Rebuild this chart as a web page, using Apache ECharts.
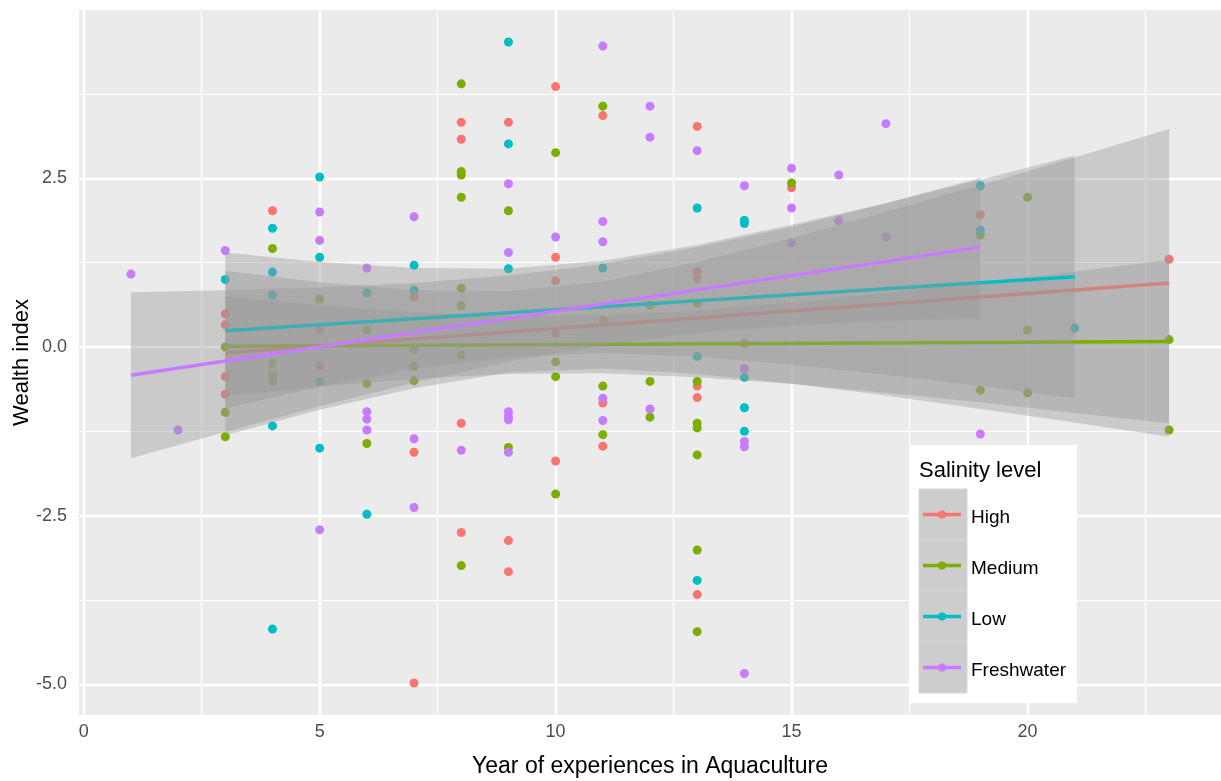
<!DOCTYPE html>
<html>
<head>
<meta charset="utf-8">
<title>Wealth index by years of experience</title>
<script src="https://cdn.jsdelivr.net/npm/echarts@6/dist/echarts.min.js"></script>
<style>
html, body { margin: 0; padding: 0; background: #fff; }
#chart { width: 1221px; height: 781px; }
</style>
</head>
<body>
<div id="chart"></div>
<script>
// points: [years of experience, wealth index]
var high = [[3,0.49],[3,0.33],[3,-0.44],[3,-0.70],[4,2.02],[5,0.25],[5,-0.28],
  [7,0.74],[7,-1.56],[7,-4.98],[8,3.33],[8,3.08],[8,-1.13],[8,-2.75],
  [9,3.33],[9,-2.87],[9,-3.33],[10,3.86],[10,1.33],[10,0.98],[10,0.20],[10,-1.69],
  [11,3.43],[11,0.40],[11,-0.83],[11,-1.47],[13,3.27],[13,1.12],[13,1.01],[13,-0.58],
  [13,-0.75],[13,-3.67],[14,0.05],[15,2.36],[19,1.96],[23,1.30]];
var medium = [[3,0.00],[3,-0.97],[3,-1.33],[4,1.46],[4,-0.24],[4,-0.41],[4,-0.51],
  [5,0.71],[6,0.25],[6,-0.54],[6,-1.43],[7,-0.04],[7,-0.29],[7,-0.50],
  [8,3.90],[8,2.60],[8,2.55],[8,2.22],[8,0.87],[8,0.61],[8,-0.12],[8,-3.24],
  [9,2.02],[9,-1.49],[10,2.88],[10,-0.22],[10,-0.44],[10,-2.18],[11,3.57],[11,-0.58],[11,-1.30],
  [12,0.62],[12,-0.51],[12,-1.04],[13,0.65],[13,-0.51],[13,-1.13],[13,-1.20],[13,-1.60],
  [13,-3.01],[13,-4.22],[15,2.43],[19,1.66],[19,-0.64],[20,2.22],[20,0.25],[20,-0.68],
  [23,0.11],[23,-1.23]];
var low = [[3,1.00],[4,1.76],[4,1.11],[4,0.77],[4,-1.17],[4,-4.18],[5,2.52],[5,1.33],
  [5,-0.51],[5,-1.50],[6,0.80],[6,-2.48],[7,1.21],[7,0.84],[9,4.52],[9,3.01],[9,1.16],
  [11,1.17],[13,2.06],[13,-0.14],[13,-3.46],[14,1.88],[14,1.83],[14,-0.45],[14,-0.90],
  [14,-1.25],[19,2.39],[19,1.73],[21,0.28]];
var fresh = [[1,1.08],[2,-1.23],[3,1.43],[5,2.00],[5,1.58],[5,-2.71],[6,1.17],[6,-0.96],
  [6,-1.07],[6,-1.23],[7,1.93],[7,-1.36],[7,-2.38],[8,-1.53],[9,2.42],[9,1.40],[9,-0.96],
  [9,-1.03],[9,-1.08],[9,-1.56],[10,1.63],[11,4.46],[11,1.86],[11,1.56],[11,-0.76],[11,-1.09],
  [12,3.57],[12,3.11],[12,-0.92],[13,2.91],[14,2.39],[14,-0.32],[14,-1.40],[14,-1.48],[14,-4.84],
  [15,2.65],[15,2.06],[15,1.54],[16,2.55],[16,1.87],[17,3.31],[17,1.63],[19,-1.29]];

// fitted lines (ends)
var highFit = [[3,-0.09],[23,0.95]];
var mediumFit = [[3,0.01],[23,0.08]];
var lowFit = [[3,0.24],[21,1.04]];
var freshFit = [[1,-0.42],[19,1.48]];

// confidence bands read at these x positions
var bandX23 = [3,5,7,9,11,13,15,17,19,21,23];
var bandX21 = [3,5,7,9,11,13,15,17,19,21];
var bandX19 = [1,3,5,7,9,11,13,15,17,19];
var highUp = [1.13,0.96,0.84,0.83,0.97,1.26,1.61,2.00,2.40,2.81,3.23];
var highLo = [-1.31,-0.93,-0.61,-0.38,-0.32,-0.40,-0.54,-0.72,-0.92,-1.12,-1.33];
var mediumUp = [0.75,0.62,0.52,0.46,0.47,0.54,0.66,0.80,0.96,1.12,1.29];
var mediumLo = [-0.73,-0.59,-0.47,-0.40,-0.39,-0.45,-0.55,-0.68,-0.82,-0.98,-1.13];
var lowUp = [1.40,1.26,1.17,1.16,1.28,1.51,1.81,2.13,2.48,2.84];
var lowLo = [-0.91,-0.59,-0.32,-0.15,-0.09,-0.14,-0.26,-0.41,-0.58,-0.76];
var freshUp = [0.81,0.84,0.88,0.95,1.06,1.23,1.48,1.78,2.13,2.51];
var freshLo = [-1.65,-1.26,-0.88,-0.53,-0.22,0.03,0.21,0.32,0.39,0.43];

var xTicks = [0, 5, 10, 15, 20];
var xMinor = [2.5, 7.5, 12.5, 17.5, 22.5];
var yTicks = [-5, -2.5, 0, 2.5];
var yMinor = [-3.75, -1.25, 1.25, 3.75];

var levels = ['High', 'Medium', 'Low', 'Freshwater'];
var colors = ['#F8766D', '#7CAE00', '#00BFC4', '#C77CFF'];
var FONT = 'Liberation Sans, Arial, sans-serif';

var chart = echarts.init(document.getElementById('chart'));

function bandRenderer(xs, up, lo) {
    return function (params, api) {
        if (params.dataIndex !== 0) return null;
        var pts = [];
        for (var i = 0; i < xs.length; i++) pts.push(api.coord([xs[i], up[i]]));
        for (var j = xs.length - 1; j >= 0; j--) pts.push(api.coord([xs[j], lo[j]]));
        return {
            type: 'polygon',
            shape: { points: pts },
            style: { fill: 'rgba(153,153,153,0.4)' }
        };
    };
}

function bandSeries(xs, up, lo, z) {
    return {
        type: 'custom',
        silent: true,
        z: z,
        renderItem: bandRenderer(xs, up, lo),
        encode: { x: 0, y: [1, 2] },
        data: xs.map(function (x, i) { return [x, up[i], lo[i]]; })
    };
}

function fitSeries(data, color, z) {
    return {
        type: 'line',
        silent: true,
        z: z,
        data: data,
        showSymbol: false,
        lineStyle: { color: color, width: 3.5 }
    };
}

function pointSeries(name, data, color) {
    return {
        name: name,
        type: 'scatter',
        silent: true,
        z: 2,
        symbol: 'circle',
        symbolSize: 9,
        itemStyle: { color: color, opacity: 1 },
        data: data
    };
}

var gridLines = [];
xTicks.forEach(function (v) { gridLines.push({ xAxis: v, lineStyle: { width: 2.4 } }); });
xMinor.forEach(function (v) { gridLines.push({ xAxis: v, lineStyle: { width: 1.2 } }); });
yTicks.forEach(function (v) { gridLines.push({ yAxis: v, lineStyle: { width: 2.4 } }); });
yMinor.forEach(function (v) { gridLines.push({ yAxis: v, lineStyle: { width: 1.2 } }); });

var scatterHigh = pointSeries('High', high, colors[0]);
scatterHigh.markLine = {
    silent: true,
    z: 1,
    symbol: ['none', 'none'],
    label: { show: false },
    animation: false,
    lineStyle: { color: '#ffffff', type: 'solid' },
    data: gridLines
};

// legend drawn as ggplot-style keys
var legendEls = [
    { type: 'rect', z: 100, shape: { x: 909, y: 445, width: 168, height: 258 }, style: { fill: '#ffffff' } },
    { type: 'text', z: 101, x: 919, y: 471,
      style: { text: 'Salinity level', fontSize: 22, fontFamily: FONT, fill: '#000', verticalAlign: 'middle' } }
];
levels.forEach(function (name, i) {
    var top = 489 + i * 51;
    var cy = top + 25.5;
    legendEls.push({ type: 'rect', z: 101, shape: { x: 919, y: top, width: 48, height: 51 },
        style: { fill: '#CDCDCD', stroke: '#D6D6D6', lineWidth: 1 } });
    legendEls.push({ type: 'line', z: 102, shape: { x1: 923, y1: cy, x2: 961, y2: cy },
        style: { stroke: colors[i], lineWidth: 3.5 } });
    legendEls.push({ type: 'circle', z: 103, shape: { cx: 942, cy: cy, r: 4 },
        style: { fill: colors[i] } });
    legendEls.push({ type: 'text', z: 102, x: 971, y: cy + 3,
        style: { text: name, fontSize: 19, fontFamily: FONT, fill: '#000', verticalAlign: 'middle' } });
});

var option = {
    animation: false,
    backgroundColor: '#ffffff',
    textStyle: { fontFamily: FONT },
    grid: {
        left: 79, right: 0, top: 10, bottom: 66,
        outerBoundsMode: 'none',
        containLabel: false,
        show: true, backgroundColor: '#EBEBEB', borderWidth: 0
    },
    xAxis: {
        type: 'value',
        min: -0.1, max: 24.1,
        name: 'Year of experiences in Aquaculture',
        nameLocation: 'middle',
        nameGap: 40,
        nameTextStyle: { fontSize: 23, color: '#000', fontFamily: FONT },
        axisLine: { show: false },
        splitLine: { show: false },
        axisTick: { show: true, length: 5, customValues: xTicks, lineStyle: { color: '#333', width: 1.5 } },
        axisLabel: { customValues: xTicks, fontSize: 18, color: '#4D4D4D', margin: 8, fontFamily: FONT }
    },
    yAxis: {
        type: 'value',
        min: -5.455, max: 4.995,
        name: 'Wealth index',
        nameLocation: 'middle',
        nameGap: 46,
        nameMoveOverlap: false,
        nameTextStyle: { fontSize: 22, color: '#000', fontFamily: FONT },
        axisLine: { show: false },
        splitLine: { show: false },
        axisTick: { show: true, length: 5, customValues: yTicks, lineStyle: { color: '#333', width: 1.5 } },
        axisLabel: {
            customValues: yTicks, fontSize: 18, color: '#4D4D4D', margin: 12, fontFamily: FONT,
            formatter: function (v) { return v.toFixed(1); }
        }
    },
    graphic: { elements: legendEls },
    series: [
        scatterHigh,
        pointSeries('Medium', medium, colors[1]),
        pointSeries('Low', low, colors[2]),
        pointSeries('Freshwater', fresh, colors[3]),
        bandSeries(bandX23, highUp, highLo, 3),
        fitSeries(highFit, colors[0], 4),
        bandSeries(bandX23, mediumUp, mediumLo, 5),
        fitSeries(mediumFit, colors[1], 6),
        bandSeries(bandX21, lowUp, lowLo, 7),
        fitSeries(lowFit, colors[2], 8),
        bandSeries(bandX19, freshUp, freshLo, 9),
        fitSeries(freshFit, colors[3], 10)
    ]
};
chart.setOption(option);
</script>
</body>
</html>
